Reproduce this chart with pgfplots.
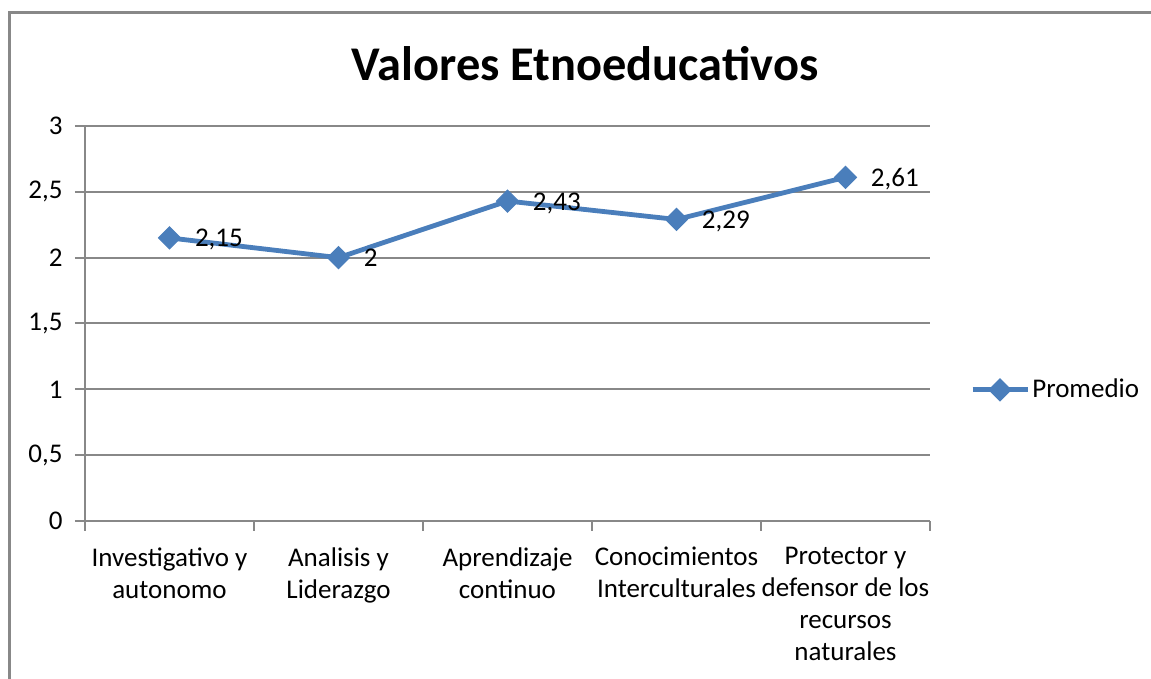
\documentclass[border=0pt]{standalone}
\usepackage{pgfplots}
\pgfplotsset{compat=1.18}
\usepackage{fontspec}
\setmainfont{Carlito}
\definecolor{serie}{HTML}{4A7EBB}
\definecolor{gridg}{HTML}{888888}
\begin{document}
\begin{tikzpicture}
\useasboundingbox (0pt,0pt) rectangle (575.5pt,339.5pt);
\draw[gridg, line width=1.5pt] (4.5pt,0pt) -- (4.5pt,333pt) -- (575.5pt,333pt);
\node[font=\fontsize{24.2}{29}\selectfont\bfseries] at (292.5pt,307.5pt) {Valores Etnoeducativos};
\begin{axis}[
  at={(42.5pt,79pt)}, anchor=south west,
  scale only axis, width=422.5pt, height=197.5pt,
  xmin=0.5, xmax=5.5, ymin=0, ymax=3,
  xtick={0.5,1.5,...,5.5},
  x tick label as interval,
  xticklabels={{Investigativo y\\autonomo},{Analisis y\\Liderazgo},{Aprendizaje\\continuo},{Conocimientos\\Interculturales},{Protector y\\defensor de los\\recursos\\naturales}},
  ytick={0,0.5,...,3},
  axis x line*=bottom, axis y line*=left,
  axis line style={gridg, line width=1pt, -},
  tick align=outside, major tick length=5pt,
  tick style={gridg, line width=1pt},
  ymajorgrids, grid style={gridg, line width=1pt},
  /pgf/number format/use comma,
  /pgf/number format/assume math mode=true,
  ticklabel style={font=\fontsize{13.5}{16}\selectfont},
  xticklabel style={align=center, anchor=north, inner sep=0pt, yshift=-8pt},
  yticklabel style={anchor=east, inner sep=0pt, xshift=-6pt},
  legend style={draw=none, fill=none, at={(1.047,0.332)}, anchor=west, inner sep=0pt,
     font=\fontsize{13.5}{16}\selectfont, nodes={inner sep=1.2pt}},
  legend image code/.code={\draw[mark repeat=2,mark phase=2,#1] plot coordinates {(0pt,0pt) (13.75pt,0pt) (27.5pt,0pt)};},
  clip=false,
]
\addplot[serie, line width=2.4pt, mark=square*, mark size=3.9pt, mark options={rotate=45, line width=0.5pt, fill=serie},
  nodes near coords, point meta=explicit symbolic,
  nodes near coords style={anchor=base west, inner sep=0pt, xshift=12.5pt, yshift=-4.5pt, text=black, font=\fontsize{13.5}{16}\selectfont}]
  table[meta=lab] {
x y lab
1 2.15 {2,15}
2 2.00 {2}
3 2.43 {2,43}
4 2.29 {2,29}
5 2.61 {2,61}
};
\addlegendentry{Promedio}
\end{axis}
\end{tikzpicture}
\end{document}
